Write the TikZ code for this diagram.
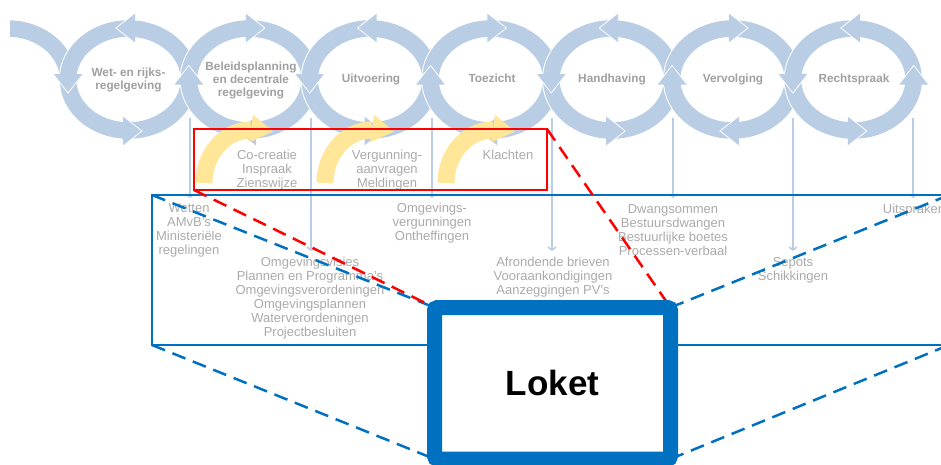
\documentclass[tikz,border=0pt]{standalone}
\usepackage{fontspec}
\setmainfont{Liberation Sans}
\usetikzlibrary{arrows.meta}
\definecolor{ringblue}{RGB}{185,205,229}
\definecolor{ringtext}{RGB}{160,160,160}
\definecolor{lowtext}{RGB}{170,170,170}
\definecolor{softyellow}{RGB}{255,230,153}
\definecolor{boxblue}{RGB}{0,112,192}
\definecolor{boxred}{RGB}{255,0,0}
\begin{document}
\begin{tikzpicture}[x=1pt,y=-1pt,
  ringtxt/.style={font=\fontsize{11.8}{13.3}\selectfont\bfseries, text=ringtext, align=center, inner sep=0pt, anchor=north},
  lowtxt/.style={font=\fontsize{13}{14}\selectfont, text=lowtext, align=center, inner sep=0pt, anchor=north},
  vline/.style={ringblue, line width=1.5pt, -{Straight Barb[length=3pt,width=8pt]}},
  bluedash/.style={boxblue, line width=2.5pt, dash pattern=on 14pt off 8pt},
  reddash/.style={boxred, line width=2.5pt, dash pattern=on 14pt off 8pt},
  ringband/.style={ringblue, line width=16.5pt},
  ringedge/.style={white, line width=18.5pt},
  ahead/.pic={\fill[ringblue] (-9.5,-15) -- (9.5,0) -- (-9.5,15) -- cycle;
              \draw[white, line width=0.8pt, line join=miter] (-9.5,-15) -- (9.5,0) -- (-9.5,15);},
  yhead/.pic={\fill[softyellow] (-11,-14) -- (11,0) -- (-11,14) -- cycle;},
]
\useasboundingbox (0,0) rectangle (941,464);

% vertical connector lines
\foreach \k/\x/\yend in {1/190/198, 2/311/251, 3/432/198, 4/552/251, 5/673/198, 6/793/251, 7/913/198}{
  \coordinate (vtop\k) at (\x,118);
  \coordinate (vbot\k) at (\x,\yend);
  \draw[vline] (vtop\k) -- (vbot\k);
}

% ring 0 (partial)
\begin{scope}
  \clip (10,0) rectangle (80,84);
  \draw[ringedge] (7.7,79.5) ellipse [x radius=60.4, y radius=51];
  \draw[ringband] (7.7,79.5) ellipse [x radius=60.4, y radius=51];
\end{scope}

% rings
\foreach \i in {1,...,7}{
  \pgfmathsetmacro\cx{128.5+120.8*(\i-1)}
  \draw[ringedge] (\cx,79.5) ellipse [x radius=60.4, y radius=51];
  \draw[ringband] (\cx,79.5) ellipse [x radius=60.4, y radius=51];
}

% arrowheads on top and bottom
\foreach \i in {1,3,5,7}{
  \pgfmathsetmacro\cx{128.5+120.8*(\i-1)}
  \pic[rotate=180] at (\cx-3,28) {ahead};
  \pic at (\cx+4,131) {ahead};
}
\foreach \i in {2,4,6}{
  \pgfmathsetmacro\cx{128.5+120.8*(\i-1)}
  \pic at (\cx+6,28) {ahead};
  \pic[rotate=180] at (\cx-3,131) {ahead};
}
% arrowheads at crossings
\foreach \x in {68.1,309.7,551.3,792.9}{
  \pic[rotate=-90] at (\x,83.5) {ahead};
}
\foreach \x in {188.9,430.5,672.1,913.7}{
  \pic[rotate=90] at (\x,75) {ahead};
}

% yellow curved arrows
\foreach \bx in {204,325,446}{
  \draw[softyellow, line width=17pt] (\bx,183) arc [start angle=180, end angle=270, x radius=47, y radius=53];
  \pic[rotate=-8] at (\bx+58,130) {yhead};
}

% ring labels
\node[ringtxt] (r1) at (128.5,67.3) {Wet- en rijks-\\regelgeving};
\node[ringtxt] (r2) at (251,61.3) {Beleidsplanning\\en decentrale\\regelgeving};
\node[ringtxt] (r3) at (371,74) {Uitvoering};
\node[ringtxt] (r4) at (492,74) {Toezicht};
\node[ringtxt] (r5) at (612,74) {Handhaving};
\node[ringtxt] (r6) at (733,74) {Vervolging};
\node[ringtxt] (r7) at (854,74) {Rechtspraak};

% lower texts
\node[lowtxt] (t1) at (267,150.3) {Co-creatie\\Inspraak\\Zienswijze};
\node[lowtxt] (t2) at (387,150.3) {Vergunning-\\aanvragen\\Meldingen};
\node[lowtxt] (t3) at (508,150.3) {Klachten};
\node[lowtxt] (t4) at (189,203.3) {Wetten\\AMvB’s\\Ministeriële\\regelingen};
\node[lowtxt] (t5) at (432,203.3) {Omgevings-\\vergunningen\\Ontheffingen};
\node[lowtxt] (t6) at (310,257.3) {Omgevingsvisies\\Plannen en Programma’s\\Omgevingsverordeningen\\Omgevingsplannen\\Waterverordeningen\\Projectbesluiten};
\node[lowtxt] (t7) at (553,257.3) {Afrondende brieven\\Vooraankondigingen\\Aanzeggingen PV’s};
\node[lowtxt] (t8) at (673,204.3) {Dwangsommen\\Bestuursdwangen\\Bestuurlijke boetes\\Processen-verbaal};
\node[lowtxt] (t9) at (793,257.3) {Sepots\\Schikkingen};
\node[lowtxt] (t10) at (914,204.3) {Uitspraken};

% boxes
\node[draw=boxred, line width=2pt, minimum width=353pt, minimum height=61pt, inner sep=0pt, outer sep=0pt] (redbox) at (370.5,159.5) {};
\node[draw=boxblue, line width=2pt, minimum width=797pt, minimum height=150pt, inner sep=0pt, outer sep=0pt] (bigbox) at (550.5,270) {};
\coordinate (loketNW) at (434.5,307.5);
\coordinate (loketNE) at (670.5,307.5);
\coordinate (loketSW) at (434.5,459);
\coordinate (loketSE) at (670.5,459);

% dashed zoom lines
\draw[bluedash] (bigbox.north west) -- (loketNW);
\draw[bluedash] (bigbox.south west) -- (loketSW);
\draw[bluedash] (loketNE) -- (bigbox.north east);
\draw[bluedash] (loketSE) -- (bigbox.south east);
\draw[reddash] (redbox.south west) -- (loketNW);
\draw[reddash] (redbox.north east) -- (loketNE);

% Loket box
\node[draw=boxblue, fill=white, line width=15pt, rounded corners=3pt, minimum width=236pt, minimum height=151.5pt, inner sep=0pt, outer sep=0pt, font=\fontsize{35}{40}\selectfont\bfseries] (loket) at (552.5,383.25) {Loket};
\end{tikzpicture}
\end{document}
